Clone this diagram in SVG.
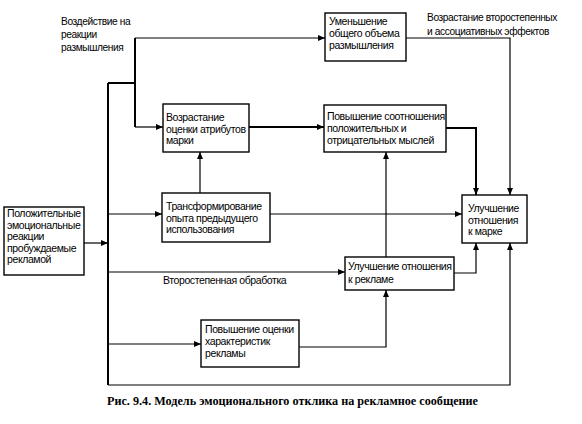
<svg xmlns="http://www.w3.org/2000/svg" width="582" height="424" viewBox="0 0 582 424">
<defs>
<marker id="ah" markerUnits="userSpaceOnUse" markerWidth="8" markerHeight="6" refX="7" refY="3" orient="auto">
<path d="M0,0 L7,3 L0,6 Z" fill="#000"/>
</marker>
<style>
.box{fill:#fff;stroke:#000;stroke-width:1.4}
.t{font-family:"Liberation Sans",Arial,sans-serif;font-size:10.5px;letter-spacing:-0.4px;fill:#000}
.s{font-size:10.2px}
.c{fill:none;stroke:#000;stroke-width:1.2}
.k{fill:none;stroke:#000;stroke-width:2}
.cap{font-family:"Liberation Serif","Times New Roman",serif;font-size:12px;font-weight:bold;fill:#000}
</style>
</defs>
<rect width="582" height="424" fill="#fff"/>
<g id="connectors">
<path class="c" d="M84,243 H108" marker-end="url(#ah)"/>
<path class="k" d="M108,83 V385"/>
<path class="k" d="M108,83 H135"/>
<path class="k" d="M135,38 V127"/>
<path class="c" d="M135,38 H325" marker-end="url(#ah)"/>
<path class="c" d="M135,127 H163" marker-end="url(#ah)"/>
<path class="c" d="M108,214 H162" marker-end="url(#ah)"/>
<path class="c" d="M108,272 H345" marker-end="url(#ah)"/>
<path class="c" d="M108,344 H201" marker-end="url(#ah)"/>
<path class="c" d="M108,385 H510 V243" marker-end="url(#ah)"/>
<path class="k" d="M249,127 H324" marker-end="url(#ah)"/>
<path class="c" d="M200,193 V152" marker-end="url(#ah)"/>
<path class="c" d="M406,38 H510 V195" marker-end="url(#ah)"/>
<path class="k" d="M446,128 H476 V195" marker-end="url(#ah)"/>
<path class="c" d="M270,214 H462" marker-end="url(#ah)"/>
<path class="c" d="M454,273 H476 V243" marker-end="url(#ah)"/>
<path class="c" d="M386,257 V152" marker-end="url(#ah)"/>
<path class="c" d="M299,347 H386 V290" marker-end="url(#ah)"/>
</g>
<g id="labels">
<text class="t s" x="61" y="25">Воздействие на</text>
<text class="t s" x="61" y="38">реакции</text>
<text class="t s" x="61" y="51">размышления</text>
<text class="t s" x="427" y="21">Возрастание второстепенных</text>
<text class="t s" x="427" y="35">и ассоциативных эффектов</text>
<text class="t" x="163" y="284">Второстепенная обработка</text>
</g>
<g id="n-left">
<rect class="box" x="4" y="207" width="80" height="68"/>
<text class="t" x="7" y="217">Положительные</text>
<text class="t" x="7" y="228.5">эмоциональные</text>
<text class="t" x="7" y="240">реакции</text>
<text class="t" x="7" y="251.5">пробуждаемые</text>
<text class="t" x="7" y="263">рекламой</text>
</g>
<g id="n-attr">
<rect class="box" x="163" y="104" width="86" height="48"/>
<text class="t" x="166" y="121">Возрастание</text>
<text class="t" x="166" y="132.5">оценки атрибутов</text>
<text class="t" x="166" y="144">марки</text>
</g>
<g id="n-less">
<rect class="box" x="325" y="13" width="81" height="48"/>
<text class="t" x="329" y="25">Уменьшение</text>
<text class="t" x="329" y="37">общего объема</text>
<text class="t" x="329" y="49">размышления</text>
</g>
<g id="n-ratio">
<rect class="box" x="324" y="105" width="122" height="47"/>
<text class="t" x="327" y="120">Повышение соотношения</text>
<text class="t" x="327" y="132">положительных и</text>
<text class="t" x="327" y="144">отрицательных мыслей</text>
</g>
<g id="n-trans">
<rect class="box" x="162" y="193" width="108" height="49"/>
<text class="t" x="166" y="210">Трансформирование</text>
<text class="t" x="166" y="221.5">опыта предыдущего</text>
<text class="t" x="166" y="233">использования</text>
</g>
<g id="n-brand">
<rect class="box" x="462" y="195" width="65" height="48"/>
<text class="t" x="468" y="212">Улучшение</text>
<text class="t" x="468" y="223.5">отношения</text>
<text class="t" x="468" y="235">к марке</text>
</g>
<g id="n-ad">
<rect class="box" x="345" y="257" width="109" height="33"/>
<text class="t" x="348" y="270">Улучшение отношения</text>
<text class="t" x="348" y="283">к рекламе</text>
</g>
<g id="n-adchar">
<rect class="box" x="201" y="320" width="98" height="47"/>
<text class="t" x="205" y="333">Повышение оценки</text>
<text class="t" x="205" y="345">характеристик</text>
<text class="t" x="205" y="357">рекламы</text>
</g>
<text class="cap" x="107" y="405" textLength="371" lengthAdjust="spacingAndGlyphs">Рис. 9.4. Модель эмоционального отклика на рекламное сообщение</text>
</svg>
